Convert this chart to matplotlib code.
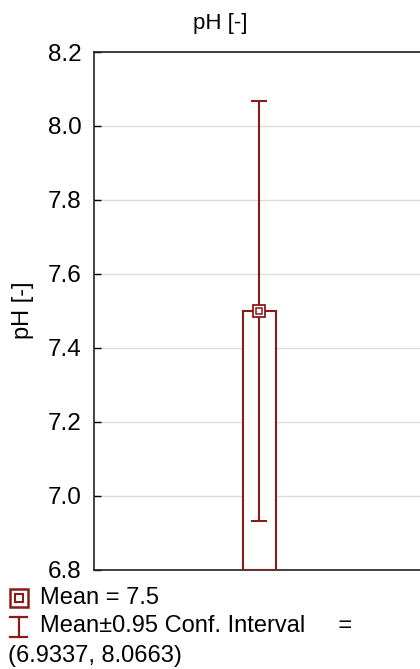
import matplotlib
matplotlib.use("Agg")
import matplotlib.pyplot as plt
from matplotlib.lines import Line2D

plt.rcParams['font.family'] = ['Liberation Sans', 'DejaVu Sans']

variable = "pH [-]"
categories = ["pH"]
means = [7.5]
ci_low = [6.9337]
ci_high = [8.0663]
y_ticks = [6.8, 7.0, 7.2, 7.4, 7.6, 7.8, 8.0, 8.2]

color = '#8b1a1a'
W, H = 420, 669
fig = plt.figure(figsize=(W / 100, H / 100), dpi=100)
ax = fig.add_axes([94 / W, 1 - 570 / H, 330 / W, (570 - 52) / H])

ax.set_ylim(6.8, 8.2)
ax.set_xlim(-0.5, 0.5)
ax.set_yticks(y_ticks)
ax.set_yticklabels([f"{t:.1f}" for t in y_ticks])
ax.yaxis.grid(True, color='#dcdcdc', linewidth=1)
ax.set_axisbelow(True)
ax.tick_params(axis='y', direction='in', length=5, width=1, pad=9, labelsize=17.5)
ax.set_xticks([])
ax.spines['right'].set_visible(False)
for s in ['left', 'top', 'bottom']:
    ax.spines[s].set_linewidth(1.2)
    ax.spines[s].set_color('#222222')

x = list(range(len(categories)))
bottom = 6.8
ax.bar(x, [m - bottom for m in means], bottom=bottom, width=0.1,
       facecolor='white', edgecolor=color, linewidth=1.5, zorder=3)
err_lo = [m - l for m, l in zip(means, ci_low)]
err_hi = [h - m for m, h in zip(means, ci_high)]
ax.errorbar(x, means, yerr=[err_lo, err_hi], fmt='none', ecolor=color,
            elinewidth=1.5, capsize=6, capthick=1.5, zorder=4)
ax.plot(x, means, marker='s', markersize=9, markerfacecolor='white',
        markeredgecolor=color, markeredgewidth=1.3, linestyle='none', zorder=5)
ax.plot(x, means, marker='s', markersize=4, markerfacecolor='white',
        markeredgecolor=color, markeredgewidth=1.1, linestyle='none', zorder=6)

fig.text(23 / W, 1 - 310 / H, variable, rotation=90, ha='center', va='center', fontsize=17)
fig.text(220 / W, 1 - 24 / H, variable, ha='center', va='center', fontsize=16)

# legend below the plot
lx, ly = 18.5 / W, 1 - 598 / H
fig.add_artist(Line2D([lx], [ly], marker='s', markersize=12.5,
                      markerfacecolor='white', markeredgecolor=color,
                      markeredgewidth=1.8, transform=fig.transFigure))
fig.add_artist(Line2D([lx], [ly], marker='s', markersize=6,
                      markerfacecolor='white', markeredgecolor=color,
                      markeredgewidth=1.5, transform=fig.transFigure))
fig.text(40 / W, ly, f"Mean = {means[0]:g}", ha='left', va='center', fontsize=17)

ex = 18.5 / W
fig.add_artist(Line2D([ex, ex], [1 - 617 / H, 1 - 637 / H], color=color,
                      linewidth=1.6, transform=fig.transFigure))
fig.add_artist(Line2D([ex - 8.5 / W, ex + 8.5 / W], [1 - 617 / H, 1 - 617 / H], color=color,
                      linewidth=1.6, transform=fig.transFigure))
fig.add_artist(Line2D([ex - 8.5 / W, ex + 8.5 / W], [1 - 637 / H, 1 - 637 / H], color=color,
                      linewidth=1.6, transform=fig.transFigure))
fig.text(40 / W, 1 - 626 / H, "Mean\u00b10.95 Conf. Interval     =",
         ha='left', va='center', fontsize=17)
fig.text(8 / W, 1 - 656 / H, f"({ci_low[0]:.4f}, {ci_high[0]:.4f})",
         ha='left', va='center', fontsize=17)

fig.savefig("out.png", dpi=100)
